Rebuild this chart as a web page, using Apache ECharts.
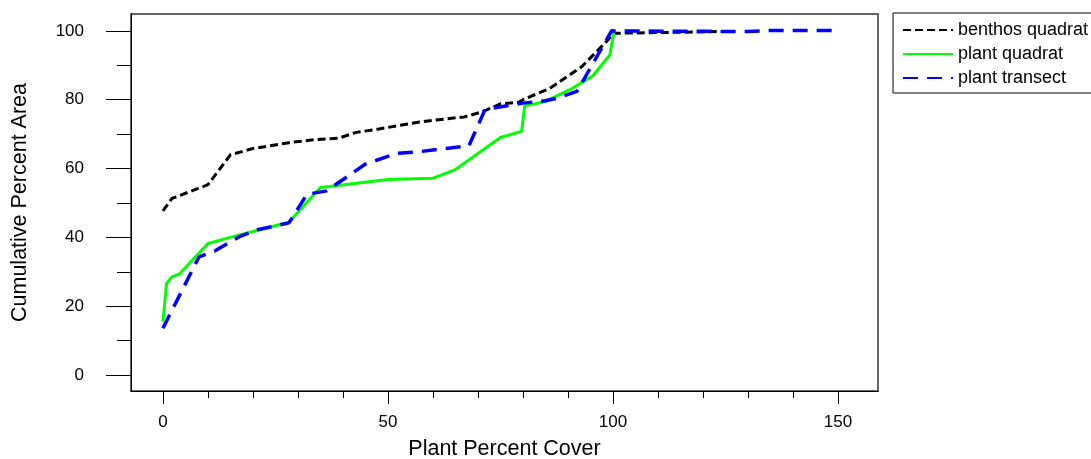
<!DOCTYPE html>
<html>
<head>
<meta charset="utf-8">
<script src="https://cdn.jsdelivr.net/npm/echarts@6/dist/echarts.min.js"></script>
<style>
html,body{margin:0;padding:0;background:#fff;}
#chart{width:1091px;height:459px;}
</style>
</head>
<body>
<div id="chart"></div>
<script>
// ---- data ----
const seriesNames = ['benthos quadrat', 'plant quadrat', 'plant transect'];

const benthosX = [0, 2, 10, 15, 20, 28, 33, 39, 43, 48, 57, 60, 67, 71, 75, 79, 80, 86, 93, 99, 100, 124];
const benthosY = [47.7, 51.3, 55.3, 64, 65.8, 67.5, 68.3, 68.8, 70.5, 71.5, 73.5, 74, 75, 76.5, 78.8, 79.2, 80, 83.3, 89.5, 97.5, 99.3, 99.8];

const plantQuadratX = [0, 0.8, 2, 3.6, 10, 15, 18.5, 28, 30, 35, 37, 50, 60, 65, 75, 79.7, 80.4, 85, 91, 95.5, 99.3, 100.2];
const plantQuadratY = [15.5, 26.6, 28.5, 29.3, 38.2, 40, 41.2, 44.4, 47.3, 54.5, 54.8, 56.8, 57.2, 59.7, 69, 70.8, 78.2, 79.5, 83.3, 86.9, 93, 99.5];

const plantTransectX = [0, 8, 11.5, 17, 21, 28, 32, 36.4, 45, 52, 57, 68, 71.6, 80, 85, 87.5, 92, 99.7, 130, 135, 150];
const plantTransectY = [13.6, 34.3, 36, 40.2, 42.2, 44.2, 52.5, 53.5, 61.3, 64.4, 64.9, 66.6, 77.2, 79, 79.7, 80.4, 82.4, 100, 99.8, 100.1, 100.1];

const xTickMajor = [0, 50, 100, 150];
const xTickMinor = [10, 20, 30, 40, 60, 70, 80, 90, 110, 120, 130, 140];
const yTickMajor = [0, 20, 40, 60, 80, 100];
const yTickMinor = [10, 30, 50, 70, 90];

const xTitle = 'Plant Percent Cover';
const yTitle = 'Cumulative Percent Area';

// ---- build ----
function pairs(xs, ys) { return xs.map((x, i) => [x, ys[i]]); }

const X_MIN = -7.1, X_MAX = 158.9;
const Y_MIN = -4.65, Y_MAX = 104.9;
const FONT = '"Liberation Sans", Arial, sans-serif';

const chart = echarts.init(document.getElementById('chart'), null, {renderer: 'canvas'});

function axisLine() { return {show: true, onZero: false, lineStyle: {color: '#000', width: 1}}; }

const option = {
  backgroundColor: '#fff',
  animation: false,
  grid: {
    left: 131, top: 14, right: 213, bottom: 68,
    outerBoundsMode: 'none', containLabel: false,
    show: true, borderColor: '#333', borderWidth: 1.5, backgroundColor: 'transparent'
  },
  legend: {
    orient: 'vertical',
    left: 893, top: 13,
    padding: [8, 60, 6, 9],
    itemGap: 6,
    itemWidth: 50, itemHeight: 10,
    borderColor: '#000', borderWidth: 1,
    itemStyle: {opacity: 0, borderWidth: 0},
    textStyle: {fontFamily: FONT, fontSize: 18, color: '#000', lineHeight: 18},
    data: seriesNames
  },
  xAxis: [
    {
      type: 'value', position: 'bottom', min: X_MIN, max: X_MAX,
      splitLine: {show: false}, axisLine: axisLine(),
      name: xTitle, nameLocation: 'middle', nameGap: 47, nameMoveOverlap: false,
      nameTextStyle: {fontFamily: FONT, fontSize: 21.5, color: '#000'},
      axisTick: {show: true, inside: false, length: 13, lineStyle: {color: '#000'}, customValues: xTickMajor},
      axisLabel: {show: true, margin: 23, fontFamily: FONT, fontSize: 17, color: '#000', customValues: xTickMajor}
    },
    {
      type: 'value', position: 'bottom', min: X_MIN, max: X_MAX,
      splitLine: {show: false}, axisLine: axisLine(),
      axisTick: {show: true, inside: false, length: 7, lineStyle: {color: '#000'}, customValues: xTickMinor},
      axisLabel: {show: false}
    }
  ],
  yAxis: [
    {
      type: 'value', position: 'left', min: Y_MIN, max: Y_MAX,
      splitLine: {show: false}, axisLine: axisLine(),
      name: yTitle, nameLocation: 'middle', nameGap: 100, nameRotate: 90, nameMoveOverlap: false,
      nameTextStyle: {fontFamily: FONT, fontSize: 21.5, color: '#000'},
      axisTick: {show: true, inside: false, length: 25, lineStyle: {color: '#000'}, customValues: yTickMajor},
      axisLabel: {show: true, margin: 47, fontFamily: FONT, fontSize: 17, color: '#000', customValues: yTickMajor}
    },
    {
      type: 'value', position: 'left', min: Y_MIN, max: Y_MAX,
      splitLine: {show: false}, axisLine: axisLine(),
      axisTick: {show: true, inside: false, length: 14, lineStyle: {color: '#000'}, customValues: yTickMinor},
      axisLabel: {show: false}
    }
  ],
  series: [
    {
      name: seriesNames[0], type: 'line', xAxisIndex: 0, yAxisIndex: 0,
      symbol: 'none', data: pairs(benthosX, benthosY),
      lineStyle: {color: '#000', width: 3, type: [8, 4]},
      itemStyle: {color: '#000'}
    },
    {
      name: seriesNames[1], type: 'line', xAxisIndex: 0, yAxisIndex: 0,
      symbol: 'none', data: pairs(plantQuadratX, plantQuadratY),
      lineStyle: {color: '#00ff00', width: 3, type: 'solid'},
      itemStyle: {color: '#00ff00'}
    },
    {
      name: seriesNames[2], type: 'line', xAxisIndex: 0, yAxisIndex: 0,
      symbol: 'none', data: pairs(plantTransectX, plantTransectY),
      lineStyle: {color: '#0000ff', width: 3.5, type: [15, 9]},
      itemStyle: {color: '#0000ff'}
    }
  ]
};
chart.setOption(option);
</script>
</body>
</html>
